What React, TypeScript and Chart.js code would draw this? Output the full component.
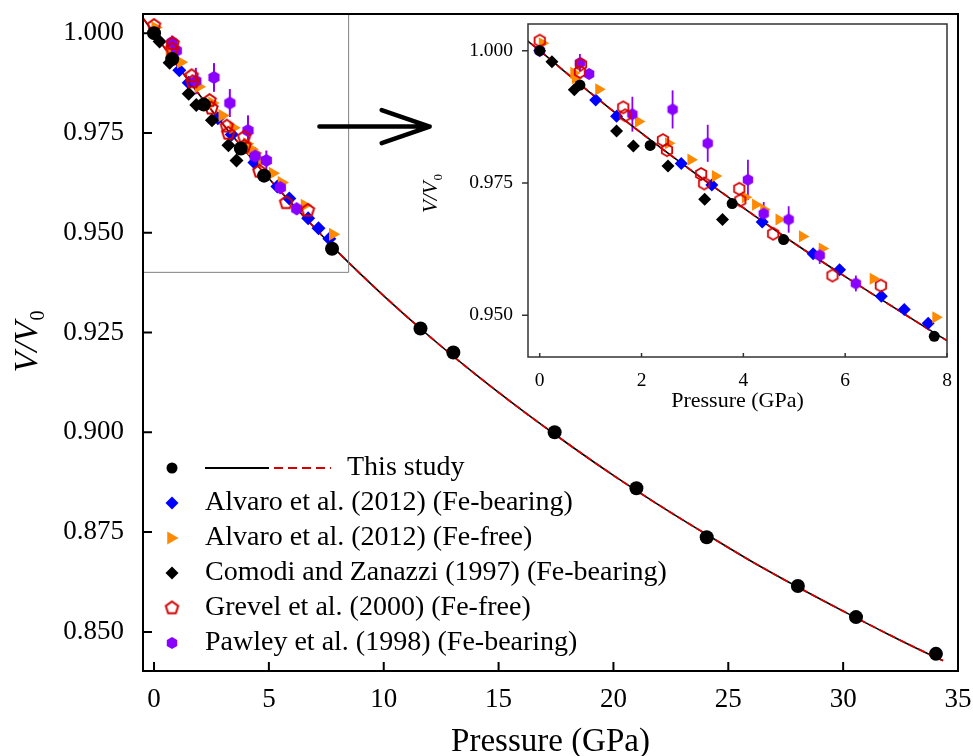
import React, { useEffect, useRef } from "react";
import { Chart, registerables } from "chart.js";

Chart.register(...registerables);

const SERIF = "'Liberation Serif', 'Times New Roman', serif";

// ---------------- data ----------------
// This study (black circles)
const studyP = [0, 0.79, 2.17, 3.78, 4.79, 7.75, 11.6, 13.03, 17.44, 21.0, 24.06, 28.03, 30.56, 34.04];
const studyV = [1.0, 0.9935, 0.9821, 0.9711, 0.9643, 0.946, 0.926, 0.92, 0.9, 0.886, 0.8737, 0.8615, 0.8537, 0.8445];

// This study: EoS fit curve
const fitP = [-0.5, 0, 1, 2, 3, 4, 5, 6, 7, 8, 10, 12, 14, 16, 18, 20, 22, 24, 26, 28, 30, 32, 34, 34.35];
const fitV = [1.0039, 1.0, 0.992, 0.9844, 0.9772, 0.9703, 0.9636, 0.9573, 0.9512, 0.9452, 0.9342, 0.924, 0.9145, 0.9056, 0.8972, 0.8892, 0.8817, 0.8746, 0.8677, 0.8613, 0.8552, 0.8493, 0.8437, 0.8428];

// Alvaro et al. (2012) (Fe-bearing)
const alvFeP = [0, 1.1, 1.51, 2.78, 3.38, 4.37, 5.37, 5.89, 6.71, 7.16, 7.63];
const alvFeV = [1.0, 0.9907, 0.9876, 0.9787, 0.9746, 0.9676, 0.9616, 0.9586, 0.9536, 0.9511, 0.9485];
const alvFeErr = [0.0004, 0.0005, 0.0005, 0.0005, 0.0005, 0.0005, 0.0005, 0.0005, 0.0005, 0.0005, 0.0005];

// Alvaro et al. (2012) (Fe-free)
const alvFreeP = [0.05, 0.67, 0.7, 1.16, 1.94, 2.53, 2.97, 3.45, 4.04, 4.24, 4.4, 4.7, 5.16, 5.55, 6.55, 7.78];
const alvFreeV = [1.0014, 0.9958, 0.9948, 0.9927, 0.9866, 0.9825, 0.9794, 0.9763, 0.9723, 0.9709, 0.97, 0.9681, 0.9649, 0.9626, 0.9569, 0.9496];
const alvFreeErr = [0.0005, 0.0006, 0.0006, 0.0006, 0.0006, 0.0006, 0.0006, 0.0006, 0.0006, 0.0006, 0.0006, 0.0006, 0.0006, 0.0006, 0.0006, 0.0006];

// Comodi and Zanazzi (1997) (Fe-bearing)
const comP = [0.24, 0.68, 1.51, 1.84, 2.52, 3.24, 3.59];
const comV = [0.9979, 0.9926, 0.9848, 0.982, 0.9782, 0.9719, 0.9681];
const comErr = [0.0005, 0.0005, 0.0006, 0.0006, 0.0007, 0.0007, 0.0008];

// Grevel et al. (2000) (Fe-free)
const grevP = [0, 0.79, 0.81, 1.64, 1.68, 2.42, 2.5, 3.17, 3.23, 3.92, 3.94, 4.585, 5.75, 6.7];
const grevV = [1.0019, 0.996, 0.9974, 0.9893, 0.9878, 0.9831, 0.9812, 0.9767, 0.9749, 0.9739, 0.9717, 0.9654, 0.9575, 0.9556];

// Pawley et al. (1998) (Fe-bearing)
const pawP = [0, 0.79, 0.97, 1.82, 2.61, 3.3, 4.09, 4.4, 4.89, 5.5, 6.21];
const pawV = [1.0, 0.9977, 0.9956, 0.988, 0.9889, 0.9825, 0.9756, 0.9692, 0.9681, 0.9613, 0.956];
const pawErr = [0.0008, 0.0017, 0.001, 0.0033, 0.0036, 0.0035, 0.0038, 0.0022, 0.0025, 0.0016, 0.0015];

// ticks
const mainXTicks = [0, 5, 10, 15, 20, 25, 30, 35];
const mainYTicks = [0.85, 0.875, 0.9, 0.925, 0.95, 0.975, 1.0];
const insetXTicks = [0, 2, 4, 6, 8];
const insetYTicks = [0.95, 0.975, 1.0];

// zoomed region shown in the inset
const zoomPMax = 8.45;
const zoomVMin = 0.9402;
// arrow (data coordinates)
const arrowP = [7.2, 12.0];
const arrowV = 0.9766;

// text
const legendLabels = [
  "This study",
  "Alvaro et al. (2012) (Fe-bearing)",
  "Alvaro et al. (2012) (Fe-free)",
  "Comodi and Zanazzi (1997) (Fe-bearing)",
  "Grevel et al. (2000) (Fe-free)",
  "Pawley et al. (1998) (Fe-bearing)",
];
const xTitle = "Pressure (GPa)";

// colours
const C_BLACK = "#000000";
const C_BLUE = "#0000ff";
const C_ORANGE = "#ff8a00";
const C_RED = "#d40000";
const C_PURPLE = "#8a00ff";

// ---------------- helpers ----------------
function polyCanvas(n: number, r: number, fill: string | null, stroke: string | null, lw: number) {
  const pad = lw + 1;
  const s = Math.ceil(2 * (r + pad));
  const c = document.createElement("canvas");
  c.width = s;
  c.height = s;
  const g = c.getContext("2d")!;
  g.beginPath();
  for (let i = 0; i < n; i++) {
    const a = -Math.PI / 2 + (i * 2 * Math.PI) / n;
    const px = s / 2 + r * Math.cos(a);
    const py = s / 2 + r * Math.sin(a);
    if (i === 0) g.moveTo(px, py);
    else g.lineTo(px, py);
  }
  g.closePath();
  if (fill) {
    g.fillStyle = fill;
    g.fill();
  }
  if (stroke) {
    g.strokeStyle = stroke;
    g.lineWidth = lw;
    g.stroke();
  }
  return c;
}

const pts = (P: number[], V: number[]) => P.map((p, i) => ({ x: p, y: V[i] }));

function buildDatasets(sz: any) {
  return [
    {
      label: "study",
      data: pts(studyP, studyV),
      pointStyle: "circle",
      pointRadius: sz.circle,
      pointBackgroundColor: C_BLACK,
      pointBorderColor: C_BLACK,
      pointBorderWidth: 0,
    },
    {
      label: "grevel",
      data: pts(grevP, grevV),
      pointStyle: sz.grevel,
      pointRadius: 6,
    },
    {
      label: "pawley",
      data: pts(pawP, pawV),
      pointStyle: sz.pawley,
      pointRadius: 6,
      errors: pawErr,
      errColor: C_PURPLE,
    },
    {
      label: "comodi",
      data: pts(comP, comV),
      pointStyle: "rectRot",
      pointRadius: sz.diamond,
      pointBackgroundColor: C_BLACK,
      pointBorderWidth: 0,
      errors: comErr,
      errColor: C_BLACK,
    },
    {
      label: "alvFree",
      data: pts(alvFreeP, alvFreeV),
      pointStyle: "triangle",
      pointRotation: 90,
      pointRadius: sz.tri,
      pointBackgroundColor: C_ORANGE,
      pointBorderWidth: 0,
      errors: alvFreeErr,
      errColor: C_ORANGE,
    },
    {
      label: "alvFe",
      data: pts(alvFeP, alvFeV),
      pointStyle: "rectRot",
      pointRadius: sz.diamond,
      pointBackgroundColor: C_BLUE,
      pointBorderWidth: 0,
      errors: alvFeErr,
      errColor: C_BLUE,
    },
    {
      label: "fitDash",
      data: pts(fitP, fitV),
      showLine: true,
      pointRadius: 0,
      borderColor: C_RED,
      borderWidth: 1.8,
      borderDash: [7, 4],
      cubicInterpolationMode: "monotone",
    },
    {
      label: "fitSolid",
      data: pts(fitP, fitV),
      showLine: true,
      pointRadius: 0,
      borderColor: C_BLACK,
      borderWidth: 1.6,
      cubicInterpolationMode: "monotone",
    },
  ];
}

const errorBarPlugin = {
  id: "errbars",
  beforeDatasetsDraw(chart: any) {
    const { ctx, chartArea: a, scales } = chart;
    const lw = chart.options.plugins.errbars?.lineWidth ?? 2;
    ctx.save();
    ctx.beginPath();
    ctx.rect(a.left, a.top, a.right - a.left, a.bottom - a.top);
    ctx.clip();
    chart.data.datasets.forEach((ds: any) => {
      if (!ds.errors) return;
      ctx.strokeStyle = ds.errColor;
      ctx.lineWidth = lw;
      ds.data.forEach((p: any, i: number) => {
        const x = scales.x.getPixelForValue(p.x);
        const y1 = scales.y.getPixelForValue(p.y - ds.errors[i]);
        const y2 = scales.y.getPixelForValue(p.y + ds.errors[i]);
        ctx.beginPath();
        ctx.moveTo(x, y1);
        ctx.lineTo(x, y2);
        ctx.stroke();
      });
    });
    ctx.restore();
  },
};

function framePlugin(id: string, xt: number[], yt: number[], lw: number, color: string, xLen: number, yLen: number) {
  return {
    id,
    afterDatasetsDraw(chart: any) {
      const { ctx, chartArea: a, scales } = chart;
      ctx.save();
      ctx.strokeStyle = color;
      ctx.lineWidth = lw;
      ctx.beginPath();
      xt.forEach((v) => {
        const px = scales.x.getPixelForValue(v);
        ctx.moveTo(px, a.bottom);
        ctx.lineTo(px, a.bottom - xLen);
      });
      yt.forEach((v) => {
        const py = scales.y.getPixelForValue(v);
        ctx.moveTo(a.left, py);
        ctx.lineTo(a.left + yLen, py);
      });
      ctx.stroke();
      ctx.strokeRect(a.left, a.top, a.right - a.left, a.bottom - a.top);
      ctx.restore();
    },
  };
}

function drawVV0(ctx: CanvasRenderingContext2D, cx: number, cy: number, size: number, sub: number) {
  ctx.save();
  ctx.translate(cx, cy);
  ctx.rotate(-Math.PI / 2);
  ctx.fillStyle = "#000";
  ctx.textAlign = "left";
  ctx.textBaseline = "alphabetic";
  ctx.font = `italic ${size}px ${SERIF}`;
  const w1 = ctx.measureText("V/V").width;
  ctx.font = `${sub}px ${SERIF}`;
  const w2 = ctx.measureText("0").width;
  const start = -(w1 + w2) / 2;
  ctx.font = `italic ${size}px ${SERIF}`;
  ctx.fillText("V/V", start, 0);
  ctx.font = `${sub}px ${SERIF}`;
  ctx.fillText("0", start + w1 + 1, sub * 0.35);
  ctx.restore();
}

function titlePlugin(id: string, xSize: number, xBase: number, ySize: number, ySub: number, yBaseX: number, yCenter: number) {
  return {
    id,
    afterDraw(chart: any) {
      const { ctx, chartArea: a } = chart;
      ctx.save();
      ctx.fillStyle = "#000";
      ctx.font = `${xSize}px ${SERIF}`;
      ctx.textAlign = "center";
      ctx.textBaseline = "alphabetic";
      ctx.fillText(xTitle, (a.left + a.right) / 2, xBase);
      ctx.restore();
      drawVV0(ctx, yBaseX, yCenter, ySize, ySub);
    },
  };
}

function legendMarker(ctx: CanvasRenderingContext2D, kind: string, x: number, y: number, r: number, fill: string) {
  ctx.beginPath();
  if (kind === "circle") {
    ctx.arc(x, y, r, 0, Math.PI * 2);
  } else if (kind === "diamond") {
    ctx.moveTo(x - r, y);
    ctx.lineTo(x, y - r);
    ctx.lineTo(x + r, y);
    ctx.lineTo(x, y + r);
    ctx.closePath();
  } else if (kind === "tri") {
    ctx.moveTo(x + r, y);
    ctx.lineTo(x - r / 2, y + (r * Math.sqrt(3)) / 2);
    ctx.lineTo(x - r / 2, y - (r * Math.sqrt(3)) / 2);
    ctx.closePath();
  }
  ctx.fillStyle = fill;
  ctx.fill();
}

function legendPlugin(pent: HTMLCanvasElement, hex: HTMLCanvasElement) {
  return {
    id: "customLegend",
    afterDraw(chart: any) {
      const ctx = chart.ctx as CanvasRenderingContext2D;
      const rows = [468, 503, 538, 573, 608, 643];
      const mx = 172;
      ctx.save();
      legendMarker(ctx, "circle", mx, rows[0], 5.5, C_BLACK);
      legendMarker(ctx, "diamond", mx, rows[1], 6.5, C_BLUE);
      legendMarker(ctx, "tri", mx - 1, rows[2], 7.5, C_ORANGE);
      legendMarker(ctx, "diamond", mx, rows[3], 6.5, C_BLACK);
      ctx.drawImage(pent, mx - pent.width / 2, rows[4] - pent.height / 2);
      ctx.drawImage(hex, mx - hex.width / 2, rows[5] - hex.height / 2);
      // lines for "This study"
      ctx.lineWidth = 1.8;
      ctx.strokeStyle = C_BLACK;
      ctx.beginPath();
      ctx.moveTo(205, rows[0]);
      ctx.lineTo(269, rows[0]);
      ctx.stroke();
      ctx.strokeStyle = C_RED;
      ctx.setLineDash([9, 5]);
      ctx.beginPath();
      ctx.moveTo(274, rows[0]);
      ctx.lineTo(331, rows[0]);
      ctx.stroke();
      ctx.setLineDash([]);
      ctx.fillStyle = "#000";
      ctx.font = `28px ${SERIF}`;
      ctx.textAlign = "left";
      ctx.textBaseline = "middle";
      ctx.fillText(legendLabels[0], 347, rows[0]);
      for (let i = 1; i < legendLabels.length; i++) ctx.fillText(legendLabels[i], 205, rows[i]);
      ctx.restore();
    },
  };
}

const zoomBoxPlugin = {
  id: "zoomBox",
  afterDatasetsDraw(chart: any) {
    const { ctx, chartArea: a, scales } = chart;
    const xr = scales.x.getPixelForValue(zoomPMax);
    const yb = scales.y.getPixelForValue(zoomVMin);
    ctx.save();
    ctx.strokeStyle = "#808080";
    ctx.lineWidth = 1;
    ctx.beginPath();
    ctx.moveTo(a.left, yb + 0.5);
    ctx.lineTo(xr + 0.5, yb + 0.5);
    ctx.lineTo(xr + 0.5, a.top);
    ctx.stroke();
    // arrow
    const x1 = scales.x.getPixelForValue(arrowP[0]);
    const x2 = scales.x.getPixelForValue(arrowP[1]);
    const ya = scales.y.getPixelForValue(arrowV);
    ctx.strokeStyle = "#000";
    ctx.lineWidth = 4.5;
    ctx.lineCap = "round";
    ctx.lineJoin = "round";
    ctx.beginPath();
    ctx.moveTo(x1, ya);
    ctx.lineTo(x2, ya);
    ctx.moveTo(x2 - 48, ya - 16.5);
    ctx.lineTo(x2, ya);
    ctx.lineTo(x2 - 48, ya + 16.5);
    ctx.stroke();
    ctx.restore();
  },
};

const whiteAreaPlugin = {
  id: "whiteArea",
  beforeDraw(chart: any) {
    const { ctx, chartArea: a } = chart;
    ctx.save();
    ctx.fillStyle = "#ffffff";
    ctx.fillRect(a.left, a.top, a.right - a.left, a.bottom - a.top);
    ctx.restore();
  },
};

function scaleOpts(min: number, max: number, ticks: number[], fontSize: number, pad: number, fit: (s: any) => void, fmt: (v: number) => string) {
  return {
    type: "linear",
    min,
    max,
    afterBuildTicks: (s: any) => {
      s.ticks = ticks.map((v) => ({ value: v }));
    },
    afterFit: (s: any) => {
      fit(s);
      s.paddingTop = 0;
      s.paddingBottom = 0;
      s.paddingLeft = 0;
      s.paddingRight = 0;
    },
    grid: { display: false },
    border: { display: false },
    ticks: {
      font: { family: SERIF, size: fontSize },
      color: "#000",
      padding: pad,
      autoSkip: false,
      maxRotation: 0,
      callback: (v: any) => fmt(Number(v)),
    },
  };
}

export default function App() {
  const mainRef = useRef<HTMLCanvasElement>(null);
  const insetRef = useRef<HTMLCanvasElement>(null);

  useEffect(() => {
    document.body.style.margin = "0";
    const mainSizes = {
      circle: 7,
      diamond: 7,
      tri: 7.5,
      grevel: polyCanvas(5, 6.5, null, C_RED, 2),
      pawley: polyCanvas(6, 6.5, C_PURPLE, null, 0),
    };
    const insetSizes = {
      circle: 5.5,
      diamond: 6.5,
      tri: 7,
      grevel: polyCanvas(6, 6, null, C_RED, 1.8),
      pawley: polyCanvas(6, 6, C_PURPLE, null, 0),
    };
    const legPent = polyCanvas(5, 6.5, null, C_RED, 2);
    const legHex = polyCanvas(6, 6, C_PURPLE, null, 0);

    const main = new Chart(mainRef.current!, {
      type: "scatter",
      data: { datasets: buildDatasets(mainSizes) as any },
      plugins: [
        errorBarPlugin,
        zoomBoxPlugin,
        framePlugin("mainFrame", mainXTicks, mainYTicks, 2, "#000", 9, 9),
        titlePlugin("mainTitles", 33, 751, 34, 20, 37, 342),
        legendPlugin(legPent, legHex),
      ] as any,
      options: {
        responsive: false,
        animation: false,
        devicePixelRatio: 1,
        events: [],
        layout: { padding: { left: 0, top: 14, right: 15, bottom: 0 } },
        plugins: { legend: { display: false }, tooltip: { enabled: false }, errbars: { lineWidth: 2 } } as any,
        scales: {
          x: scaleOpts(-0.48, 35, mainXTicks, 27, 5, (s: any) => { s.height = 85; }, (v) => String(v)) as any,
          y: scaleOpts(0.8402, 1.0048, mainYTicks, 27, 11, (s: any) => { s.width = 143; }, (v) => v.toFixed(3)) as any,
        },
      },
    });

    const inset = new Chart(insetRef.current!, {
      type: "scatter",
      data: { datasets: buildDatasets(insetSizes) as any },
      plugins: [
        whiteAreaPlugin,
        errorBarPlugin,
        framePlugin("insetFrame", insetXTicks, [], 1.5, "#333", 4, 0),
        {
          id: "insetYTicks",
          afterDatasetsDraw(chart: any) {
            const { ctx, chartArea: a, scales } = chart;
            ctx.save();
            ctx.strokeStyle = "#333";
            ctx.lineWidth = 1.5;
            ctx.beginPath();
            insetYTicks.forEach((v) => {
              const py = scales.y.getPixelForValue(v);
              ctx.moveTo(a.left, py);
              ctx.lineTo(a.left - 6, py);
            });
            ctx.stroke();
            ctx.restore();
          },
        },
        titlePlugin("insetTitles", 22, 406.5, 21, 13, 37, 194),
      ] as any,
      options: {
        responsive: false,
        animation: false,
        devicePixelRatio: 1,
        events: [],
        layout: { padding: { left: 0, top: 24, right: 26, bottom: 0 } },
        plugins: { legend: { display: false }, tooltip: { enabled: false }, errbars: { lineWidth: 1.8 } } as any,
        scales: {
          x: scaleOpts(-0.23, 8.0, insetXTicks, 19.5, 4, (s: any) => { s.height = 63; }, (v) => String(v)) as any,
          y: scaleOpts(0.9421, 1.00505, insetYTicks, 19.5, 7, (s: any) => { s.width = 128; }, (v) => v.toFixed(3)) as any,
        },
      },
    });

    return () => {
      main.destroy();
      inset.destroy();
    };
  }, []);

  return (
    <div style={{ position: "fixed", left: 0, top: 0, width: 973, height: 756, background: "#fff" }}>
      <canvas ref={mainRef} width={973} height={756} style={{ position: "absolute", left: 0, top: 0 }} />
      <canvas ref={insetRef} width={573} height={420} style={{ position: "absolute", left: 400, top: 0 }} />
    </div>
  );
}
